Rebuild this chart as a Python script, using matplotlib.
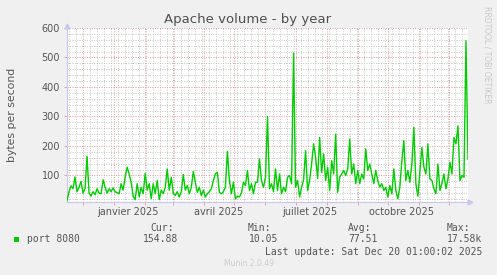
import pandas as pd
import matplotlib
matplotlib.use('Agg')
import matplotlib.pyplot as plt
import matplotlib.dates as mdates
from matplotlib.ticker import MultipleLocator
from matplotlib.patches import Rectangle

# --- donnees (une valeur tous les 2 jours) ---
start = pd.Timestamp('2024-11-15')
span_days = 400

rate = [
    15, 45, 65, 55, 95, 45, 60, 80, 40, 55, 165, 40, 30, 45, 35, 55, 40, 38, 85, 60, 40, 55, 45, 58, 45,
    42, 38, 72, 50, 95, 128, 105, 77, 30, 18, 72, 27, 60, 38, 107, 50, 72, 21, 72, 38, 83, 18, 50, 38, 60,
    122, 50, 94, 40, 32, 45, 27, 45, 103, 50, 66, 38, 60, 114, 77, 43, 60, 32, 50, 27, 38, 45, 55, 83, 105,
    111, 43, 38, 45, 60, 182, 83, 38, 77, 21, 30, 27, 40, 77, 66, 117, 49, 72, 38, 77, 77, 156, 83, 60, 94,
    300, 55, 72, 45, 122, 49, 105, 38, 60, 45, 94, 100, 72, 515, 60, 83, 27, 60, 85, 184, 49, 83, 139, 207, 162,
    90, 229, 110, 173, 83, 128, 49, 150, 105, 240, 43, 94, 105, 117, 100, 122, 223, 105, 139, 72, 117, 72, 105, 88, 190,
    117, 139, 105, 72, 117, 83, 60, 72, 49, 60, 27, 66, 38, 122, 49, 21, 60, 150, 218, 83, 117, 77, 139, 263, 72,
    30, 111, 195, 128, 105, 207, 88, 83, 55, 38, 139, 49, 72, 105, 55, 88, 145, 105, 229, 207, 268, 83, 100, 94, 557,
    155,
]
dates = pd.date_range(start, periods=len(rate), freq='2D')

label_dates = pd.to_datetime(['2025-01-15', '2025-04-15', '2025-07-15', '2025-10-15'])
label_text = ['janvier 2025', 'avril 2025', 'juillet 2025', 'octobre 2025']

legend_name = 'port 8080'
stat_names = ['Cur:', 'Min:', 'Avg:', 'Max:']
stat_values = ['154.88', '10.05', '77.51', '17.58k']
last_update = 'Last update: Sat Dec 20 01:00:02 2025'

W, H = 497, 275
BG = '#f0f0f0'
GREEN = '#00cc00'
TXT = '#555555'
MGRID = '#e39a9a'
GRID = '#c4c4c4'
AXIS = '#c8c8ee'

fig = plt.figure(figsize=(W / 100, H / 100), dpi=100, facecolor=BG)
ax = fig.add_axes([67 / W, 73 / H, 401 / W, 174 / H])
ax.set_facecolor('white')

ax.plot(dates, rate, color=GREEN, lw=1.0, zorder=3)

ax.set_xlim(start, start + pd.Timedelta(days=span_days))
ax.set_ylim(10, 600)

# grille style rrdtool
ax.yaxis.set_major_locator(MultipleLocator(100))
ax.yaxis.set_minor_locator(MultipleLocator(20))
ax.xaxis.set_major_locator(mdates.MonthLocator())
ax.xaxis.set_minor_locator(mdates.WeekdayLocator(byweekday=mdates.SU))
ax.xaxis.set_major_formatter(plt.NullFormatter())
ax.grid(which='minor', color=GRID, lw=0.7, ls=(0, (1, 1.5)), zorder=1)
ax.grid(which='major', color=MGRID, lw=0.7, ls=(0, (1, 1.5)), zorder=2)

ax.tick_params(axis='y', which='major', length=2, width=0.6, color=MGRID,
               labelsize=7, labelcolor=TXT, pad=3)
ax.tick_params(axis='x', which='major', length=2, width=0.6, color=MGRID)
ax.tick_params(which='minor', length=0)

for s in ['top', 'right']:
    ax.spines[s].set_visible(False)
for s in ['left', 'bottom']:
    ax.spines[s].set_color(AXIS)
    ax.spines[s].set_linewidth(0.8)

# petites fleches au bout des axes
ax.plot([0], [1.01], marker='^', ms=3.5, color=AXIS, transform=ax.transAxes, clip_on=False, zorder=4)
ax.plot([1.005], [0], marker='>', ms=3.5, color=AXIS, transform=ax.transAxes, clip_on=False, zorder=4)

# libelles des mois
for d, t in zip(label_dates, label_text):
    ax.text(d, -0.055, t, transform=ax.get_xaxis_transform(), ha='center', va='center',
            fontsize=7, color=TXT)

def fx(x):
    return x / W

def fy(y):
    return 1 - y / H

fig.text(fx(248), fy(19), 'Apache volume - by year', ha='center', va='center',
         fontsize=9.5, color='#505050')
fig.text(fx(12), fy(115), 'bytes per second', rotation=90, ha='center', va='center',
         fontsize=7.8, color=TXT)
fig.text(fx(487), fy(6), 'RRDTOOL / TOBI OETIKER', rotation=270, ha='center', va='top',
         fontsize=5.5, color='#c8c8c8')

# legende
mono = 'DejaVu Sans Mono'
fig.patches.append(Rectangle((fx(14), fy(242.3)), 5.3 / W, 5.6 / H, transform=fig.transFigure,
                             facecolor=GREEN, edgecolor='none'))
fig.text(fx(27), fy(239.5), legend_name, family=mono, fontsize=7, color=TXT, va='center')

name_x = [150, 248, 348, 447]
val_x = [143, 249, 348, 447]
for nx, vx, n, v in zip(name_x, val_x, stat_names, stat_values):
    fig.text(fx(nx), fy(228), n, family=mono, fontsize=7, color=TXT, va='center')
    fig.text(fx(vx), fy(239.5), v, family=mono, fontsize=7, color=TXT, va='center')

fig.text(fx(482), fy(252), last_update, family=mono, fontsize=7, color=TXT, va='center', ha='right')
fig.text(fx(249), fy(264), 'Munin 2.0.49', fontsize=5.5, color='#cccccc', va='center', ha='center')

fig.savefig('out.png', dpi=100, facecolor=BG)
